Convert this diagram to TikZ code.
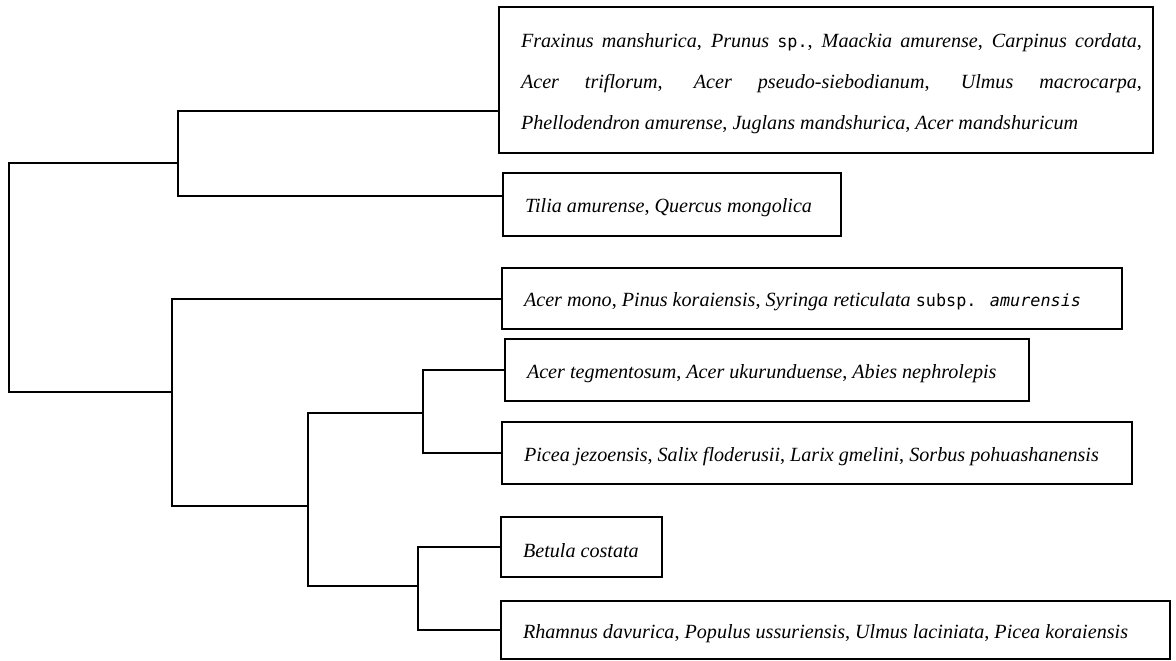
\documentclass[tikz,border=0pt]{standalone}
\usepackage{fontspec}
\setmainfont{Liberation Serif}
\newfontfamily\sppfont{DejaVu Sans Mono}
\newdimen\px \px=0.75pt
\newcommand{\spp}[1]{{\sppfont\fontsize{12.6}{14}\selectfont #1}}
\newcommand{\cellbox}[2]{\raisebox{-3.5\px}[\height][\depth]{\makebox[#1\px][l]{#2}}}

\begin{document}
\begin{tikzpicture}[x=0.75pt,y=-0.75pt,
  taxbox/.style={draw, line width=1.5pt, anchor=west, inner xsep=22\px, inner ysep=0pt,
    font=\fontsize{15.1}{30.75}\selectfont},
  link/.style={line width=1.5pt}]
\useasboundingbox (0,0) rectangle (1176,660);

% clusters
\node [taxbox, minimum height=146\px] (b1) at (498,80)
  {\cellbox{610}{\parbox[c]{621\px}{%
   \makebox[621\px][s]{\textit{Fraxinus manshurica}, \textit{Prunus} \spp{sp.}, \textit{Maackia amurense}, \textit{Carpinus cordata},}\\
   \makebox[621\px][s]{\textit{Acer triflorum}, \textit{Acer pseudo-siebodianum}, \textit{Ulmus macrocarpa},}\\
   \textit{Phellodendron amurense}, \textit{Juglans mandshurica}, \textit{Acer mandshuricum}}}};
\node [taxbox, minimum height=63\px] (b2) at (502,204.5)
  {\cellbox{294}{\textit{Tilia amurense}, \textit{Quercus mongolica}}};
\node [taxbox, minimum height=61\px] (b3) at (501,298.5)
  {\cellbox{576}{\textit{Acer mono}, \textit{Pinus koraiensis}, \textit{Syringa reticulata} \spp{subsp. \textit{amurensis}}}};
\node [taxbox, minimum height=62\px] (b4) at (504,370)
  {\cellbox{480}{\textit{Acer tegmentosum}, \textit{Acer ukurunduense}, \textit{Abies nephrolepis}}};
\node [taxbox, minimum height=62\px] (b5) at (501,453)
  {\cellbox{586}{\textit{Picea jezoensis}, \textit{Salix floderusii}, \textit{Larix gmelini}, \textit{Sorbus pohuashanensis}}};
\node [taxbox, minimum height=60\px] (b6) at (500,547)
  {\cellbox{117}{\textit{Betula costata}}};
\node [taxbox, minimum height=58\px] (b7) at (500,630)
  {\cellbox{625}{\textit{Rhamnus davurica}, \textit{Populus ussuriensis}, \textit{Ulmus laciniata}, \textit{Picea koraiensis}}};

% joins
\coordinate (b1in) at ([yshift=-23.25pt]b1.west);
\coordinate (b2in) at ([yshift=6.4pt]b2.west);
\coordinate (root) at (9,163);
\coordinate (u1) at (178,163);
\coordinate (u2) at (172,392);
\coordinate (u3) at (308,506);
\coordinate (u4) at (423,413);
\coordinate (u5) at (418,586);

\draw [link] (b1in) -| (u1) |- (b2in);
\draw [link] (u1) -- (root) |- (u2);
\draw [link] (b3.west) -| (u2) |- (u3);
\draw [link] (u4) -| (u3) |- (u5);
\draw [link] (b4.west) -| (u4) |- (b5.west);
\draw [link] (b6.west) -| (u5) |- (b7.west);
\end{tikzpicture}
\end{document}
